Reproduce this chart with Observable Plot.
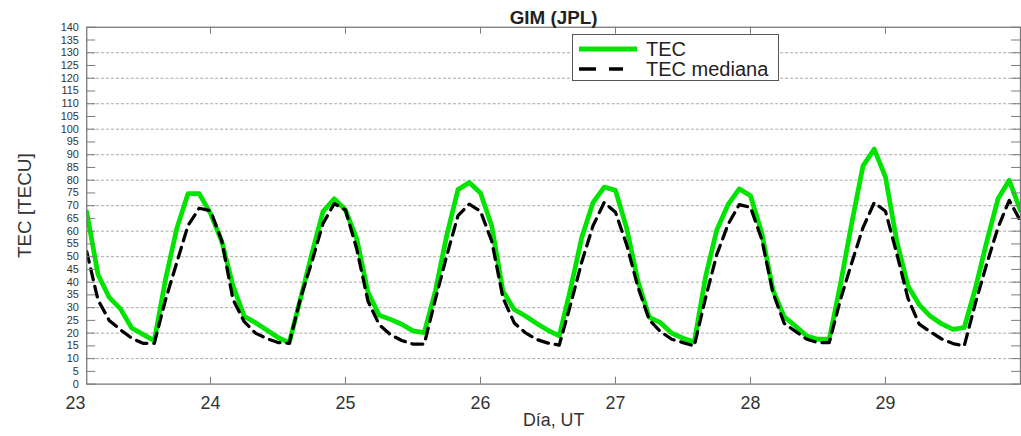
<!DOCTYPE html>
<html>
<head>
<meta charset="utf-8">
<script src="https://cdn.jsdelivr.net/npm/d3@7"></script>
<script src="https://cdn.jsdelivr.net/npm/@observablehq/plot@0.6"></script>
<style>
  html, body { margin: 0; padding: 0; background: #fff; overflow: hidden; }
  #wrap { position: relative; width: 1021px; height: 436px; overflow: hidden; }
  #wrap svg.plot-chart { max-width: none; display: block; }
  .legend { position: absolute; left: 572px; top: 34px; width: 205px; height: 45px;
            border: 1px solid #555; background: #fff; }
  .legend svg { display: block; }
</style>
</head>
<body>
<div id="wrap"></div>
<script>
// ---- text ----
const chartTitle = "GIM (JPL)";
const yAxisLabel = "TEC [TECU]";
const xAxisLabel = "Día, UT";
const seriesNames = ["TEC", "TEC mediana"];

// ---- sampling: every 2 h UT, first sample on day 23 at 02:00 ----
const firstDay = 23;
const firstHourUT = 2;
const stepHours = 2;

// ---- series values (TECU) ----
const tec = [
  67.6, 43, 34, 29.5, 22, 19.5, 17, 41, 61, 74.7, 74.7,
  67, 56, 38.6, 26.6, 24.1, 21.2, 18.3, 16.3, 33.5, 51, 67.7, 72.7,
  68.3, 57, 36, 27, 25.4, 23.5, 20.9, 20.2, 36.7, 58.4, 76.3, 79.1,
  75, 62, 36.4, 29.3, 26.7, 23.8, 21.1, 18.9, 37.3, 57.5, 71.2, 77.3,
  76, 61, 40.3, 26.2, 24.1, 20, 18, 16.5, 42, 60.4, 70.4, 76.6,
  73.9, 59.4, 36.9, 26.4, 22.8, 18.9, 17.6, 17.6, 39.3, 63.2, 85.6, 92.2,
  81.2, 56.1, 38.5, 31.1, 26.6, 23.6, 21.5, 22.2, 37.7, 55.9, 72.7, 80,
  68
];
const tecMediana = [
  52, 33, 25, 21.3, 18, 16, 16, 33, 47.6, 62.2, 69,
  68, 56.3, 33.2, 24.5, 20, 17.9, 16.3, 16, 33.7, 47.8, 63, 70.8,
  68.3, 53, 32.5, 23.3, 19.4, 17.1, 15.7, 15.7, 33.4, 50.4, 66.1, 70.6,
  67.8, 56.1, 33.8, 24, 20.1, 17.5, 16.1, 15.3, 31.1, 47.9, 62.1, 71.3,
  67.4, 54.6, 38, 25.2, 20.6, 17.6, 16.3, 15, 33.7, 50.8, 62.6, 70.4,
  69.4, 56.8, 35.8, 23.8, 20.7, 17.6, 16.3, 16.3, 33.2, 47.6, 61.4, 71.2,
  67.8, 51.2, 33.6, 23.5, 20.5, 17.7, 15.9, 15, 31.9, 47.2, 61.4, 72.1,
  64
];

// ---- ticks ----
const dayTicks = [23, 24, 25, 26, 27, 28, 29];
const tecTicks = [0, 5, 10, 15, 20, 25, 30, 35, 40, 45, 50, 55, 60, 65, 70, 75, 80, 85, 90, 95, 100, 105, 110, 115, 120, 125, 130, 135, 140];
const gridLevels = [10, 20, 30, 40, 50, 60, 70, 80, 90, 100, 110, 120, 130];

// ---- layout ----
const W = 1030, H = 436;
const mL = 87, mR = 1, mT = 27, mB = 49;
const innerW = W - mL - mR, innerH = H - mT - mB;
const font = "'Liberation Sans', Arial, Helvetica, sans-serif";
const green = "#00e400";
const xStart = firstDay + firstHourUT / 24;

const toRows = (vals) => vals.map((v, i) => ({
  day: firstDay + (firstHourUT + i * stepHours) / 24,
  value: v
}));
const tecRows = toRows(tec);
const medRows = toRows(tecMediana);

const chart = Plot.plot({
  width: W,
  height: H,
  marginLeft: mL, marginRight: mR, marginTop: mT, marginBottom: mB,
  style: { fontFamily: font, background: "#fff", overflow: "hidden" },
  x: { domain: [xStart, 30], label: null },
  y: { domain: [0, 140], label: null },
  marks: [
    Plot.gridY(gridLevels, { stroke: "#a0a0a0", strokeOpacity: 1, strokeWidth: 0.9, strokeDasharray: "3,2" }),
    Plot.line(tecRows, { x: "day", y: "value", stroke: green, strokeWidth: 4.8, clip: true }),
    Plot.line(medRows, { x: "day", y: "value", stroke: "#000", strokeWidth: 3.3, strokeDasharray: "11,7", clip: true }),
    Plot.frame({ stroke: "#7a7a7a", strokeWidth: 1.3 }),
    // inward ticks (MATLAB style)
    Plot.tickY(tecTicks, { y: d => d, stroke: "#7a7a7a", strokeWidth: 1, insetRight: innerW - 9 }),
    Plot.tickY(tecTicks, { y: d => d, stroke: "#7a7a7a", strokeWidth: 1, insetLeft: innerW - 9 }),
    Plot.tickX(dayTicks.filter(d => d > xStart), { x: d => d, stroke: "#7a7a7a", strokeWidth: 1, insetTop: innerH - 7 }),
    Plot.tickX(dayTicks.filter(d => d > xStart), { x: d => d, stroke: "#7a7a7a", strokeWidth: 1, insetBottom: innerH - 7 }),
    // tick labels
    Plot.axisY(tecTicks, { tickSize: 0, tickPadding: 8, fontSize: 11, fill: "#333", label: null }),
    Plot.axisX(dayTicks, { tickSize: 0, tickPadding: 12, fontSize: 18, fill: "#333", label: null, tickFormat: d3.format("d") }),
    // titles
    Plot.text([chartTitle], { frameAnchor: "top", lineAnchor: "middle", dy: -9, fontSize: 19, fontWeight: "bold", fill: "#222" }),
    Plot.text([xAxisLabel], { frameAnchor: "bottom", lineAnchor: "middle", dy: 36, fontSize: 18, fill: "#333" }),
    Plot.text([yAxisLabel], { frameAnchor: "left", textAnchor: "middle", lineAnchor: "middle", dx: -62, rotate: -90, fontSize: 19, fill: "#333" })
  ]
});

const wrap = document.getElementById("wrap");
wrap.appendChild(chart);

// ---- legend ----
const legend = document.createElement("div");
legend.className = "legend";
const lsvg = d3.create("svg").attr("width", 205).attr("height", 45);
const legendItems = [
  { name: seriesNames[0], stroke: green, width: 4.8, dash: null, x2: 64, y: 14 },
  { name: seriesNames[1], stroke: "#000", width: 3.3, dash: "17,13", x2: 50, y: 34 }
];
for (const it of legendItems) {
  lsvg.append("line").attr("x1", 6).attr("x2", it.x2).attr("y1", it.y).attr("y2", it.y)
    .attr("stroke", it.stroke).attr("stroke-width", it.width)
    .attr("stroke-dasharray", it.dash);
  lsvg.append("text").attr("x", 73).attr("y", it.y).attr("dy", "0.35em")
    .attr("font-family", font).attr("font-size", 20).attr("fill", "#222").text(it.name);
}
legend.appendChild(lsvg.node());
wrap.appendChild(legend);
</script>
</body>
</html>
